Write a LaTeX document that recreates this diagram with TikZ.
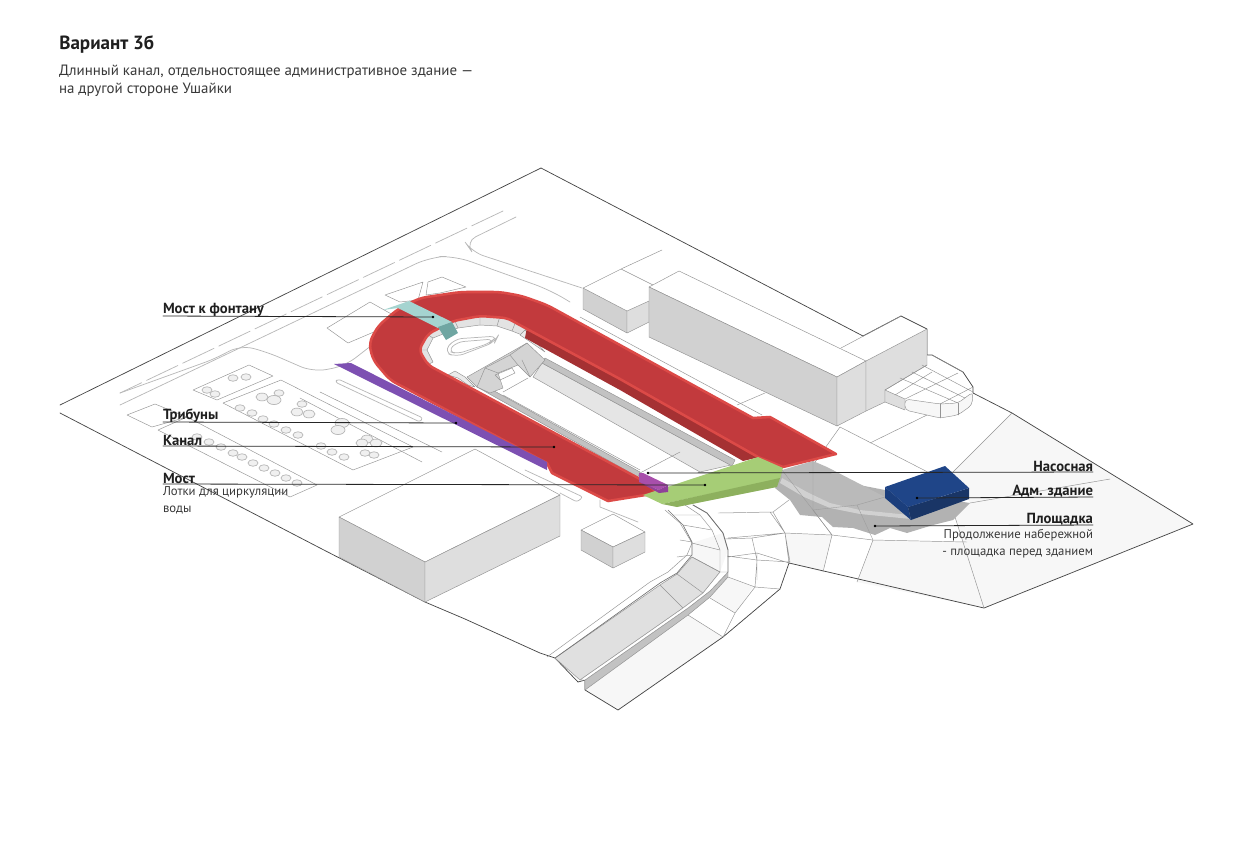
\documentclass[tikz,border=0pt]{standalone}
\usepackage{fontspec}
\setmainfont{PT Sans}
\definecolor{redmain}{HTML}{C23A3D}
\definecolor{redlight}{HTML}{DC4A47}
\definecolor{reddark}{HTML}{A53133}
\definecolor{tealtop}{HTML}{A5D4D0}
\definecolor{tealside}{HTML}{6FA6A2}
\definecolor{violetbar}{HTML}{7D50B2}
\definecolor{greentop}{HTML}{A6CD76}
\definecolor{greenside}{HTML}{8DB05E}
\definecolor{magtop}{HTML}{A84FAB}
\definecolor{magside}{HTML}{8F4199}
\definecolor{bluetop}{HTML}{1F4588}
\definecolor{blueleft}{HTML}{1B3E7C}
\definecolor{blueside}{HTML}{193566}
\tikzset{
	thin line/.style={draw=black!42,line width=0.35pt},
	faint line/.style={draw=black!28,line width=0.55pt},
	site line/.style={draw=black!72,line width=0.55pt},
	wall/.style={fill=black!18,draw=black!42,line width=0.35pt},
	wall light/.style={fill=black!13,draw=black!42,line width=0.35pt},
	paving/.style={fill=black!3},
	leader/.style={draw=black!85,line width=0.6pt},
	head/.style={font=\fontsize{11}{13}\selectfont\bfseries,text=black!88,inner sep=0pt,outer sep=0pt},
	note/.style={font=\fontsize{9.55}{12.75}\selectfont,text=black!78,inner sep=0pt,outer sep=0pt}
}
\begin{document}
\begin{tikzpicture}[x=0.75pt,y=-0.75pt,line join=round,line cap=round]
	\useasboundingbox (0,0) rectangle (1256,840);
	\path
	(433,317) coordinate (fontan)
	(456,423) coordinate (tribuna)
	(554,447) coordinate (kanal)
	(705,485) coordinate (most)
	(648,473) coordinate (nasos)
	(917,498) coordinate (adm)
	(875,526) coordinate (plosh);
	% paved zones under the lines
	\fill[paving] (1012,413) -- (1193,524) -- (984,608) -- (955,517) -- (970,503) -- (953,472) -- cycle;
	\fill[paving] (585,690) -- (618,710) -- (723,637) -- (688,615) -- cycle;
	\fill[paving] (710,597) -- (735,613) -- (753,587) -- (728,577) -- cycle;
	\fill[paving] (692,543) -- (723,533) -- (728,550) -- (720,572) -- (692,557) -- cycle;
	\fill[paving] (785,533) -- (832,535) -- (823,572) -- (789,563) -- cycle;
	\fill[paving] (873,540) -- (967,542) -- (984,608) -- (857,582) -- cycle;
	% site outline
	\draw[site line] (60,405) -- (541,168) -- (863,336) -- (901,316) -- (927,329) -- (927,355) -- (932,355) -- (963,372) -- (973,387) -- (973,393) -- (1012,413) -- (1193,524) -- (984,608) -- (789,563) -- (780,589) -- (723,637) -- (618,710) -- (585,690) -- (585,680) -- (578,682) -- (555,658) -- (540,653) -- (465,619) -- (425,602) -- (320,548) -- (60,413);
	% roads
	\draw[faint line,dash pattern=on 26pt off 4pt] (503,211) -- (120,393);
	\draw[faint line,rounded corners=9pt] (516,217) -- (465,242) -- (472,252) -- (582,288);
	\draw[faint line,rounded corners=12pt] (120,405) -- (225,355) -- (430,257) -- (455,256) -- (550,290) -- (570,302);
	\draw[faint line,rounded corners=10pt] (120,393) -- (217,358) -- (240,345) -- (267,352) -- (313,372) -- (345,366) -- (372,345);
	% gardens
	\draw[thin line] (193,390) -- (249,365) -- (273,376) -- (217,400) -- cycle;
	\draw[thin line] (223,403) -- (281,380) -- (413,447) -- (353,470) -- cycle;
	\draw[thin line] (158,430) -- (187,417) -- (317,485) -- (290,497) -- cycle;
	\draw[thin line] (127,415) -- (155,404) -- (187,417) -- (152,427) -- cycle;
	\draw[thin line] (327,328) -- (370,302) -- (402,320) -- (348,343) -- cycle;
	\draw[thin line] (385,295) -- (423,282) -- (418,300) -- (400,302) -- cycle;
	\draw[thin line] (428,282) -- (442,277) -- (466,287) -- (440,293) -- (426,295) -- cycle;
	\draw[thin line] (320,392) -- (442,452);
	\draw[thin line] (300,398) -- (422,462);
	\draw[faint line,rounded corners=2pt] (335,382) -- (338,379) -- (423,418) -- (420,422) -- cycle;
	\foreach \cx/\cy/\rr in {233/378/5,246/377/5,207/390/5,215/394/5,262/397/6,274/400/7,279/393/5,240/408/5,252/413/5,263/419/5,274/424/5,286/430/5,298/435/5,302/404/5,297/412/6,309/414/6,342/423/7,338/430/7,367/439/6,362/443/6,376/443/6,365/453/5,374/455/5,321/446/5,332/452/5,344/457/5,197/437/5,209/442/5,221/447/5,233/453/5,242/457/5,253/463/5,264/468/5,275/473/5,286/478/5,297/483/5}{
		\draw[faint line,fill=black!6] (\cx,\cy) ellipse [x radius=\rr,y radius=0.65*\rr];
	}
	% thin lines of the square
	\draw[thin line] (621,269) -- (662,250) (621,269) -- (653,285);
	\draw[thin line] (580,317) -- (762,415);
	\draw[thin line] (737,405) -- (765,393);
	\draw[thin line] (840,427) -- (953,485);
	\draw[thin line] (813,465) -- (840,427) (870,443) -- (927,415) (1012,413) -- (953,472);
	\draw[thin line] (1110,479) -- (970,503);
	\draw[thin line] (955,517) -- (984,608);
	% platform and its shadow
	\fill[black!30] (775,488) -- (790,500) -- (800,515) -- (822,517) -- (833,527) -- (853,528) -- (875,535) -- (890,528) -- (907,533) -- (933,525) -- (953,520) -- (970,503) -- (885,490) -- (782,470) -- cycle;
	\fill[black!27] (782,470) -- (813,461) -- (827,467) -- (885,497) -- (910,515) -- (860,510) -- (830,503) -- (807,492) -- (782,478) -- cycle;
	\fill[black!18] (782,478) -- (807,492) -- (830,503) -- (860,510) -- (910,515) -- (911,519) -- (860,514) -- (830,508) -- (804,497) -- (780,483) -- cycle;
	\draw[black!38,line width=0.3pt] (782,470) -- (813,510) -- (857,505) -- (885,497) (813,461) -- (813,510) -- (832,535) (857,505) -- (873,540);
	% mesh of the embankment
	\draw[thin line] (718,513) -- (773,512) -- (789,500) (728,538) -- (785,533) -- (773,512) (785,533) -- (832,535) -- (813,510) (832,535) -- (873,540) -- (857,582) (873,540) -- (967,542) (832,535) -- (823,572) (785,533) -- (789,563) (728,557) -- (757,553) -- (789,563) (757,553) -- (757,580) (722,513) -- (770,512) -- (785,533) -- (790,562) (725,539) -- (752,538) -- (785,533) (727,556) -- (757,560) -- (790,562) (752,538) -- (757,560) -- (755,587) -- (735,613) (728,577) -- (755,587) -- (780,589) (710,598) -- (735,613) -- (723,637) (688,615) -- (723,637);
	% buildings
	\filldraw[wall] (583,288) -- (627,311) -- (627,333) -- (583,309) -- cycle;
	\filldraw[wall light] (627,311) -- (649,301) -- (649,322) -- (627,333) -- cycle;
	\draw[thin line] (583,288) -- (621,269);
	\filldraw[fill=white,thin line] (649,287) -- (679,271) -- (866,361) -- (837,377) -- cycle;
	\filldraw[wall] (649,287) -- (837,377) -- (837,426) -- (649,337) -- cycle;
	\filldraw[wall light] (837,377) -- (866,361) -- (866,411) -- (837,426) -- cycle;
	\filldraw[wall light] (866,361) -- (927,329) -- (927,365) -- (885,390) -- (885,402) -- (866,411) -- cycle;
	\draw[thin line] (841,348) -- (901,316);
	% round terrace
	\filldraw[fill=black!13,thin line] (885,390) -- (905,399) -- (905,410) -- (885,402) -- cycle;
	\filldraw[fill=black!3,thin line,rounded corners=3pt] (905,399) -- (940,404) -- (958,403) -- (973,392) -- (972,405) -- (958,415) -- (940,418) -- (905,410) -- cycle;
	\draw[thin line] (940,404) -- (940,418) (958,403) -- (958,415);
	\draw[thin line] (885,390) -- (927,365) (895,395) -- (932,372) (905,399) -- (958,373) (940,404) -- (973,387) (900,378) -- (958,403) (912,372) -- (965,398) (922,365) -- (973,392) (932,355) -- (963,372);
	% boxes on the left
	\filldraw[fill=white,thin line] (339,517) -- (475,449) -- (560,495) -- (425,562) -- cycle;
	\filldraw[wall] (339,517) -- (425,562) -- (425,602) -- (339,557) -- cycle;
	\filldraw[wall light] (425,562) -- (560,495) -- (560,536) -- (425,602) -- cycle;
	\filldraw[fill=white,thin line] (581,530) -- (613,514) -- (645,532) -- (613,547) -- cycle;
	\filldraw[wall] (581,530) -- (613,547) -- (613,568) -- (581,550) -- cycle;
	\filldraw[wall light] (613,547) -- (645,532) -- (645,552) -- (613,568) -- cycle;
	\draw[faint line,rounded corners=2pt] (525,470) -- (583,497) -- (577,502) -- (560,493);
	\draw[faint line] (600,500) -- (600,507) -- (638,522);
	% channel in the middle
	\filldraw[fill=black!10,thin line] (542,363) -- (697,447) -- (731,465) -- (700,472) -- (533,377) -- cycle;
	\filldraw[fill=black!24,thin line] (545,358) -- (698,440) -- (735,460) -- (732,466) -- (542,363) -- cycle;
	\filldraw[fill=black!24,thin line] (477,387) -- (480,383) -- (640,472) -- (638,477) -- cycle;
	\draw[thin line] (503,395) -- (640,470) (640,473) -- (680,452);
	% stands round the inner bend
	\filldraw[fill=black!11,thin line] (427,365) -- (418,350) -- (427,333) -- (453,320) -- (480,315) -- (507,317) -- (527,327) -- (522,335) -- (512,331) -- (497,326) -- (480,325) -- (458,328) -- (433,338) -- (427,350) -- (433,362) -- cycle;
	\draw[thin line] (427,350) -- (418,350) (433,338) -- (425,333) (446,332) -- (440,323) (458,328) -- (454,319) (480,325) -- (480,315) (497,326) -- (500,316) (512,331) -- (516,321);
	\draw[faint line,rounded corners=6pt] (444,352) -- (454,339) -- (498,336) -- (495,342) -- (456,357) -- cycle;
	\draw[faint line,rounded corners=5pt] (448,351) -- (457,342) -- (494,339) -- (490,343) -- (457,354) -- cycle;
	% grey steps at the end of the channel
	\filldraw[fill=black!17,thin line] (467,377) -- (527,343) -- (545,360) -- (530,377) -- (518,365) -- (498,373) -- (503,388) -- (490,393) -- (477,387) -- cycle;
	\draw[thin line] (498,373) -- (485,368) -- (477,387) (485,368) -- (510,355) -- (518,365) (510,355) -- (527,343) (530,377) -- (522,360);
	\filldraw[fill=black!8,thin line] (448,375) -- (455,371) -- (465,377) -- (475,387) -- (468,385) -- (458,378) -- cycle;
	\filldraw[fill=black!8,thin line] (520,335) -- (525,330) -- (545,352) -- (532,343) -- cycle;
	\draw[thin line] (503,392) -- (528,378) (495,375) -- (512,368) -- (515,373) -- (500,380) -- cycle;
	% lower channel
	\filldraw[fill=black!12,thin line] (555,658) -- (660,585) -- (677,574) -- (692,557) -- (720,572) -- (703,593) -- (683,608) -- (580,680) -- cycle;
	\draw[thin line] (660,585) -- (683,608) (677,574) -- (703,593);
	\filldraw[fill=black!24,thin line] (585,680) -- (688,608) -- (710,591) -- (728,572) -- (728,577) -- (710,597) -- (688,615) -- (585,690) -- cycle;
	\filldraw[fill=white,thin line] (580,680) -- (683,608) -- (703,593) -- (720,572) -- (728,572) -- (710,591) -- (688,608) -- (585,680) -- cycle;
	\draw[thin line] (547,657) -- (650,582) -- (668,572) -- (687,555) -- (692,543) -- (680,523) -- (665,510);
	\draw[black!55,line width=0.5pt] (555,658) -- (660,583) -- (677,573) -- (692,555) -- (692,542) -- (683,525) -- (668,510);
	\draw[black!55,line width=0.7pt] (728,572) -- (728,550) -- (723,533) -- (707,513) -- (693,505);
	\draw[thin line] (720,572) -- (720,550) -- (712,530) -- (700,515) -- (685,505);
	\draw[thin line] (692,543) -- (720,550) (692,557) -- (720,572) (683,525) -- (712,530) (672,515) -- (700,515) (680,540) -- (692,542) (677,557) -- (692,555);
	% red canal: the dark wall first
	\fill[reddark] (527,327) -- (620,377) -- (760,457) -- (743,461) -- (620,390) -- (525,338) -- cycle;
	\filldraw[fill=redmain,draw=redlight,line width=1.9pt] (608,501) -- (552,473) -- (547,463) [rounded corners=5pt] -- (390,380) -- (373,360) -- (369,343) -- (378,326) -- (398,309) -- (420,298) -- (460,292) -- (500,292) -- (522,296) -- (547,305) [sharp corners] -- (753,418) -- (770,417) -- (836,454) -- (783,467) -- (758,457) -- (620,379) -- (527,329) [rounded corners=4pt] -- (507,318) -- (480,316) -- (453,321) -- (428,334) -- (419,350) -- (428,365) [sharp corners] -- (640,479) -- (658,493) -- cycle;
	% violet trays
	\fill[violetbar] (334,364) -- (351,363) -- (547,462) -- (547,470) -- cycle;
	% bridge to the fountain
	\fill[tealtop] (383,310) -- (409,301) -- (452,322) -- (438,328) -- (398,308) -- cycle;
	\fill[tealside] (438,327) -- (452,322) -- (458,333) -- (446,340) -- cycle;
	% bridge
	\fill[greentop] (643,495) -- (758,457) -- (783,468) -- (780,479) -- (662,504) -- cycle;
	\fill[greenside] (662,504) -- (677,507) -- (777,487) -- (780,478) -- cycle;
	% pump house
	\fill[magtop] (639,473) -- (643,473) -- (668,485) -- (659,490) -- (639,482) -- cycle;
	\fill[magside] (639,482) -- (659,490) -- (668,485) -- (668,492) -- (659,493) -- cycle;
	% admin building
	\fill[blueleft] (885,487) -- (908,507) -- (911,520) -- (885,498) -- cycle;
	\fill[blueside] (908,507) -- (969,488) -- (969,499) -- (911,520) -- cycle;
	\fill[bluetop] (885,487) -- (945,466) -- (969,488) -- (908,507) -- cycle;
	% title
	\node[anchor=base west,inner sep=0pt,font=\fontsize{14.3}{16}\selectfont\bfseries,text=black!88] (titul) at (59,49) {Вариант 3б};
	\node[note,font=\fontsize{11.2}{13.2}\selectfont,anchor=north west,align=left] (podpis) at (59,65) {Длинный канал, отдельностоящее административное здание —\\на другой стороне Ушайки};
	% labels
	\node[head,anchor=south west] (lfontan) at (163,316) {Мост к фонтану};
	\node[head,anchor=south west] (ltribuna) at (163,422) {Трибуны};
	\node[head,anchor=south west] (lkanal) at (163,446) {Канал};
	\node[head,anchor=south west] (lmost) at (163,484) {Мост};
	\node[head,anchor=south east] (lnasos) at (1093,472) {Насосная};
	\node[head,anchor=south east] (ladm) at (1093,497) {Адм. здание};
	\node[head,anchor=south east] (lplosh) at (1093,525) {Площадка};
	\node[note,anchor=north west,align=left] (nmost) at (163,487) {Лотки для циркуляции\\воды};
	\node[note,anchor=north east,align=right] (nplosh) at (1093,529) {Продолжение набережной\\- площадка перед зданием};
	% leaders
	\foreach \p/\q/\a in {lfontan/fontan/west,ltribuna/tribuna/west,lkanal/kanal/west,lmost/most/west,lnasos/nasos/east,ladm/adm/east,lplosh/plosh/east}{
		\draw[leader] (\p.south \a) -- (\q);
		\fill[black] (\q) circle (1.1pt);
	}
\end{tikzpicture}
\end{document}
